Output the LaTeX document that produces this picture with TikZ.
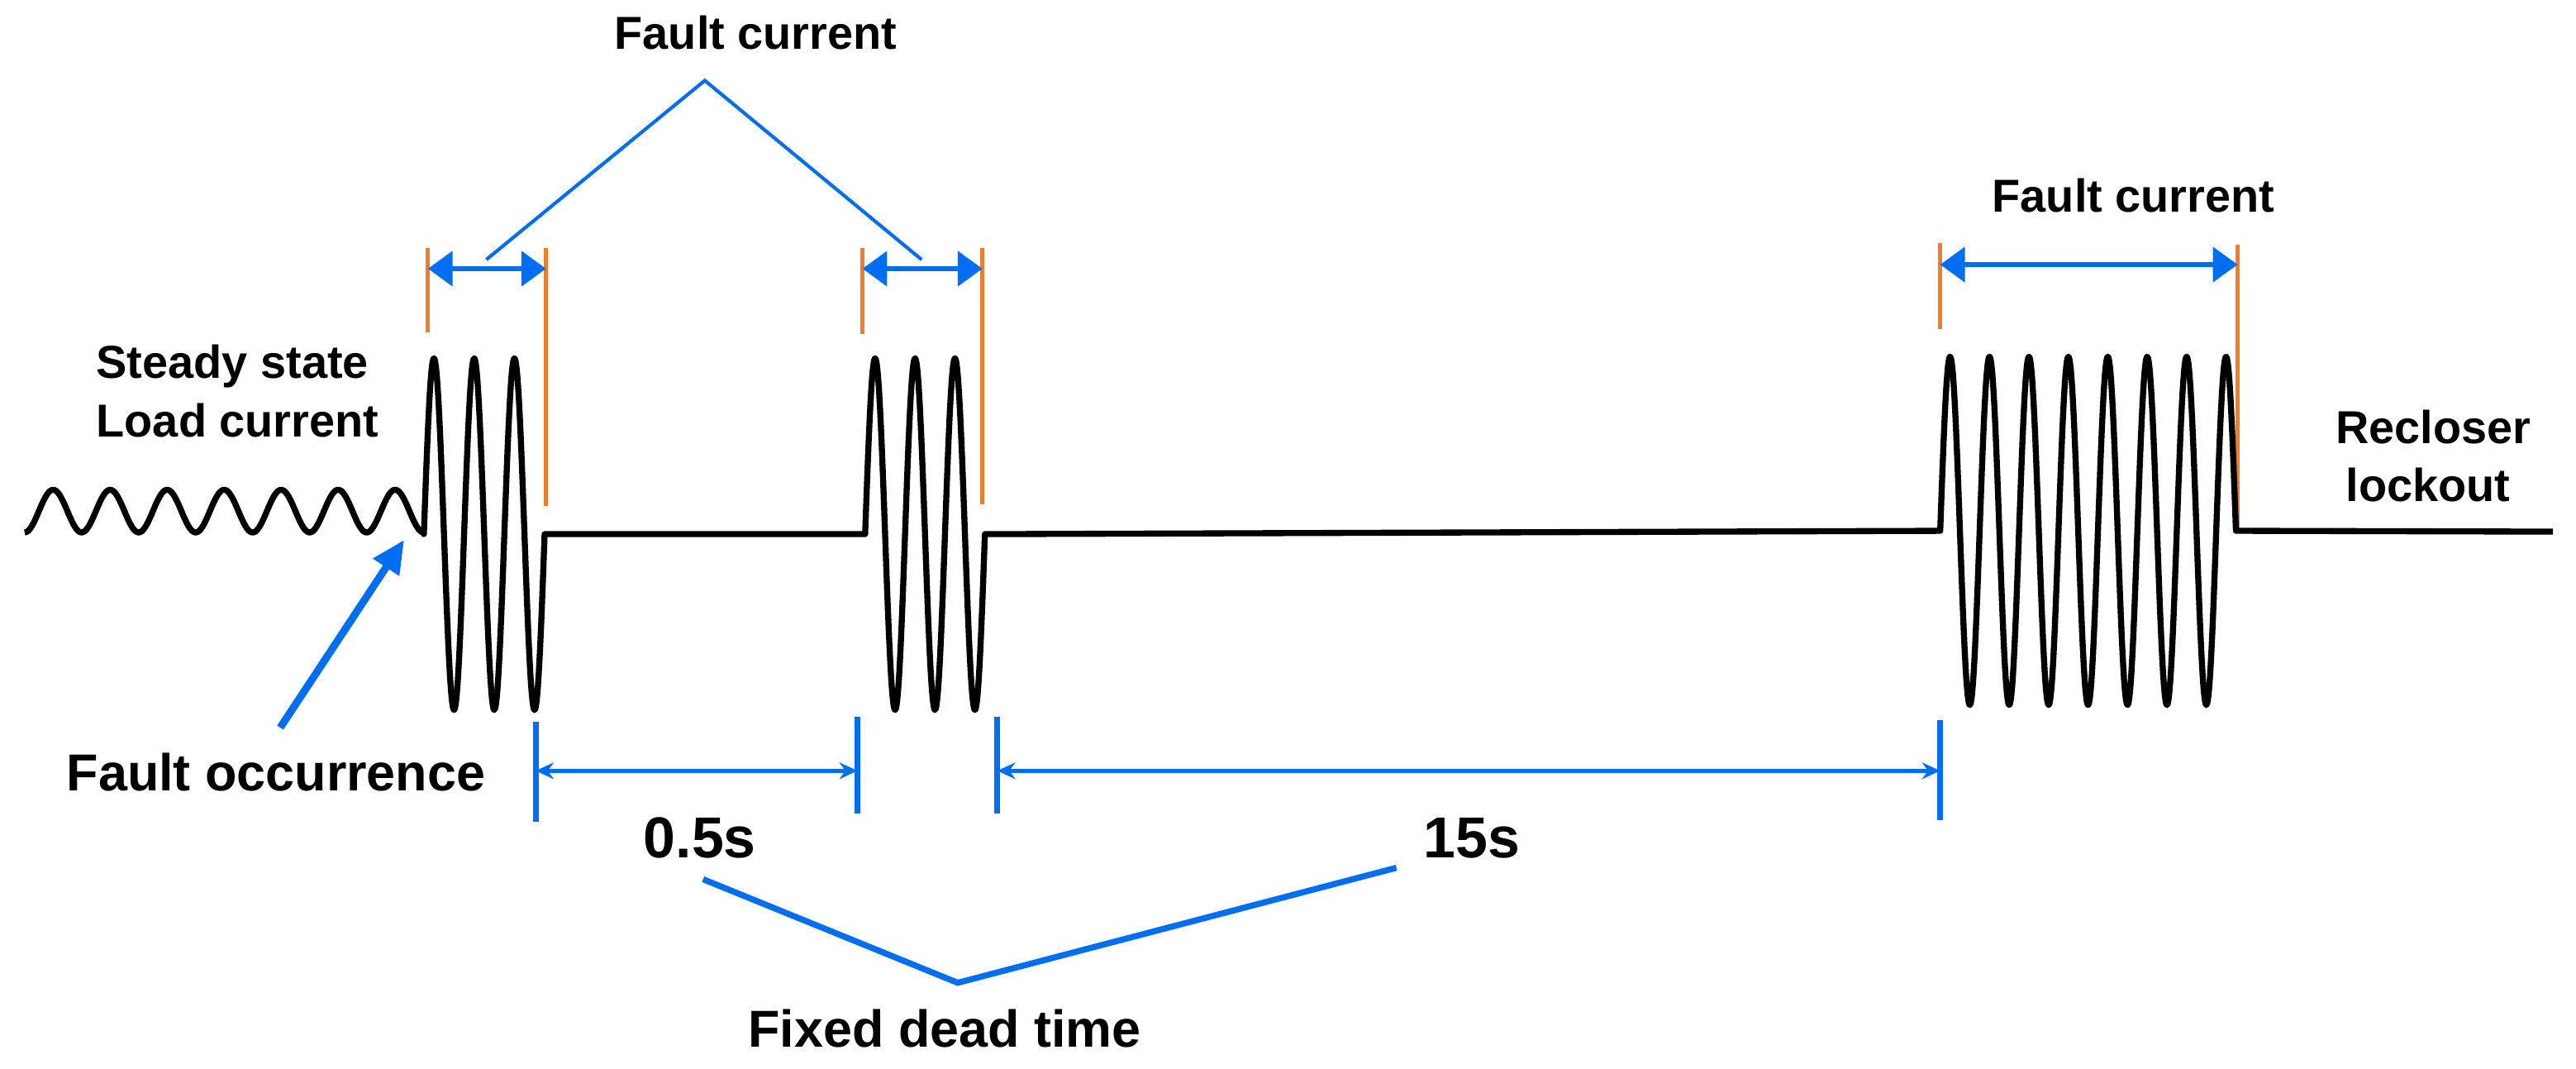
\documentclass[tikz,border=0pt]{standalone}
\usepackage{fontspec}
\setmainfont{Liberation Sans}
\usepackage{tikz}
\usetikzlibrary{arrows.meta}
\definecolor{dimblue}{RGB}{0,110,240}
\definecolor{markorange}{RGB}{240,125,45}
\tikzstyle{wave}=[line width=1.05pt,line join=round,draw=black]
\tikzstyle{edgeline}=[line width=0.7pt,draw=markorange]
\tikzstyle{spanarrow}=[{Triangle[length=1.5mm,width=2.1mm]}-{Triangle[length=1.5mm,width=2.1mm]},line width=0.8pt,draw=dimblue]
\tikzstyle{legline}=[line width=0.6pt,draw=dimblue]
\tikzstyle{tickline}=[line width=1pt,draw=dimblue]
\tikzstyle{dimline}=[{Stealth[length=1.1mm,width=1mm]}-{Stealth[length=1.1mm,width=1mm]},line width=0.65pt,draw=dimblue]
\tikzstyle{pointer}=[-{Triangle[length=2mm,width=1.8mm]},line width=1.3pt,draw=dimblue]
\tikzstyle{deadline}=[line width=1.05pt,draw=dimblue]
\tikzstyle{lbl}=[inner sep=0pt,font=\fontsize{8}{9.6}\selectfont\bfseries]
\tikzstyle{biglbl}=[inner sep=0pt,font=\fontsize{9}{10.8}\selectfont\bfseries]
\tikzstyle{timelbl}=[inner sep=0pt,font=\fontsize{10}{12}\selectfont\bfseries]

\begin{document}
\begin{tikzpicture}[x=0.1mm,y=-0.1mm]
  \useasboundingbox (0,0) rectangle (1568,650);

  % orange limits of the fault bursts
  \draw[edgeline] (260.5,151) -- (260.5,202);
  \draw[edgeline] (332.4,151) -- (332.4,308);
  \draw[edgeline] (525,151) -- (525,203);
  \draw[edgeline] (598,151) -- (598,307);
  \draw[edgeline] (1181,148) -- (1181,200);
  \draw[edgeline] (1362,149) -- (1362,323);

  % current waveform
  \draw[wave] plot[domain=15:258,samples=240] (\x,{311+13*cos(360/34.7*(\x-15))})
    -- plot[domain=258:331.5,samples=180] (\x,{325-107*sin(360/24.5*(\x-258))})
    -- (526.6,325)
    -- plot[domain=526.6:599.5,samples=180] (\x,{325-107*sin(360/24.3*(\x-526.6))})
    -- (1181,323)
    -- plot[domain=1181:1361,samples=400] (\x,{323-106*sin(15*(\x-1181))})
    -- (1554,323.5);

  % labels
  \node[lbl,anchor=base] (fc1) at (460,30) {Fault current};
  \node[lbl,anchor=base] (fc2) at (1298.6,129) {Fault current};
  \node[lbl,anchor=base west] (steady) at (58,230) {Steady state};
  \node[lbl,anchor=base west] (load) at (58,266) {Load current};
  \node[lbl,anchor=base] (recl) at (1481,270) {Recloser};
  \node[lbl,anchor=base] (lock) at (1478,305) {lockout};
  \node[biglbl,anchor=base] (occ) at (168,481) {Fault occurrence};
  \node[biglbl,anchor=base] (dead) at (575,637) {Fixed dead time};
  \node[timelbl,anchor=base] (t05) at (426,522) {0.5s};
  \node[timelbl,anchor=base] (t15) at (896,522) {15s};

  % fault current spans
  \draw[spanarrow] (260.5,163.5) -- (332.4,163.5);
  \draw[spanarrow] (525,163.5) -- (598,163.5);
  \draw[spanarrow] (1181,161) -- (1362,161);
  \coordinate (fcapex) at (429,49);
  \coordinate (fcleft) at (296,158);
  \coordinate (fcright) at (561,158);
  \draw[legline] (fcleft) -- (fcapex) -- (fcright);

  % fault occurrence pointer
  \coordinate (occtail) at (170.6,442.7);
  \coordinate (occtip) at (246,328.5);
  \draw[pointer] (occtail) -- (occtip);

  % dead time spans
  \draw[tickline] (326,439) -- (326,500);
  \draw[tickline] (522,436) -- (522,495);
  \draw[tickline] (607,436) -- (607,495);
  \draw[tickline] (1181,438) -- (1181,499);
  \coordinate (d1a) at (326,469);
  \coordinate (d1b) at (522,469);
  \coordinate (d2a) at (607,469);
  \coordinate (d2b) at (1181,469);
  \draw[dimline] (d1a) -- (d1b);
  \draw[dimline] (d2a) -- (d2b);
  \coordinate (dtleft) at (428,535);
  \coordinate (dtapex) at (583,598);
  \coordinate (dtright) at (850,528);
  \draw[deadline] (dtleft) -- (dtapex) -- (dtright);
\end{tikzpicture}
\end{document}
